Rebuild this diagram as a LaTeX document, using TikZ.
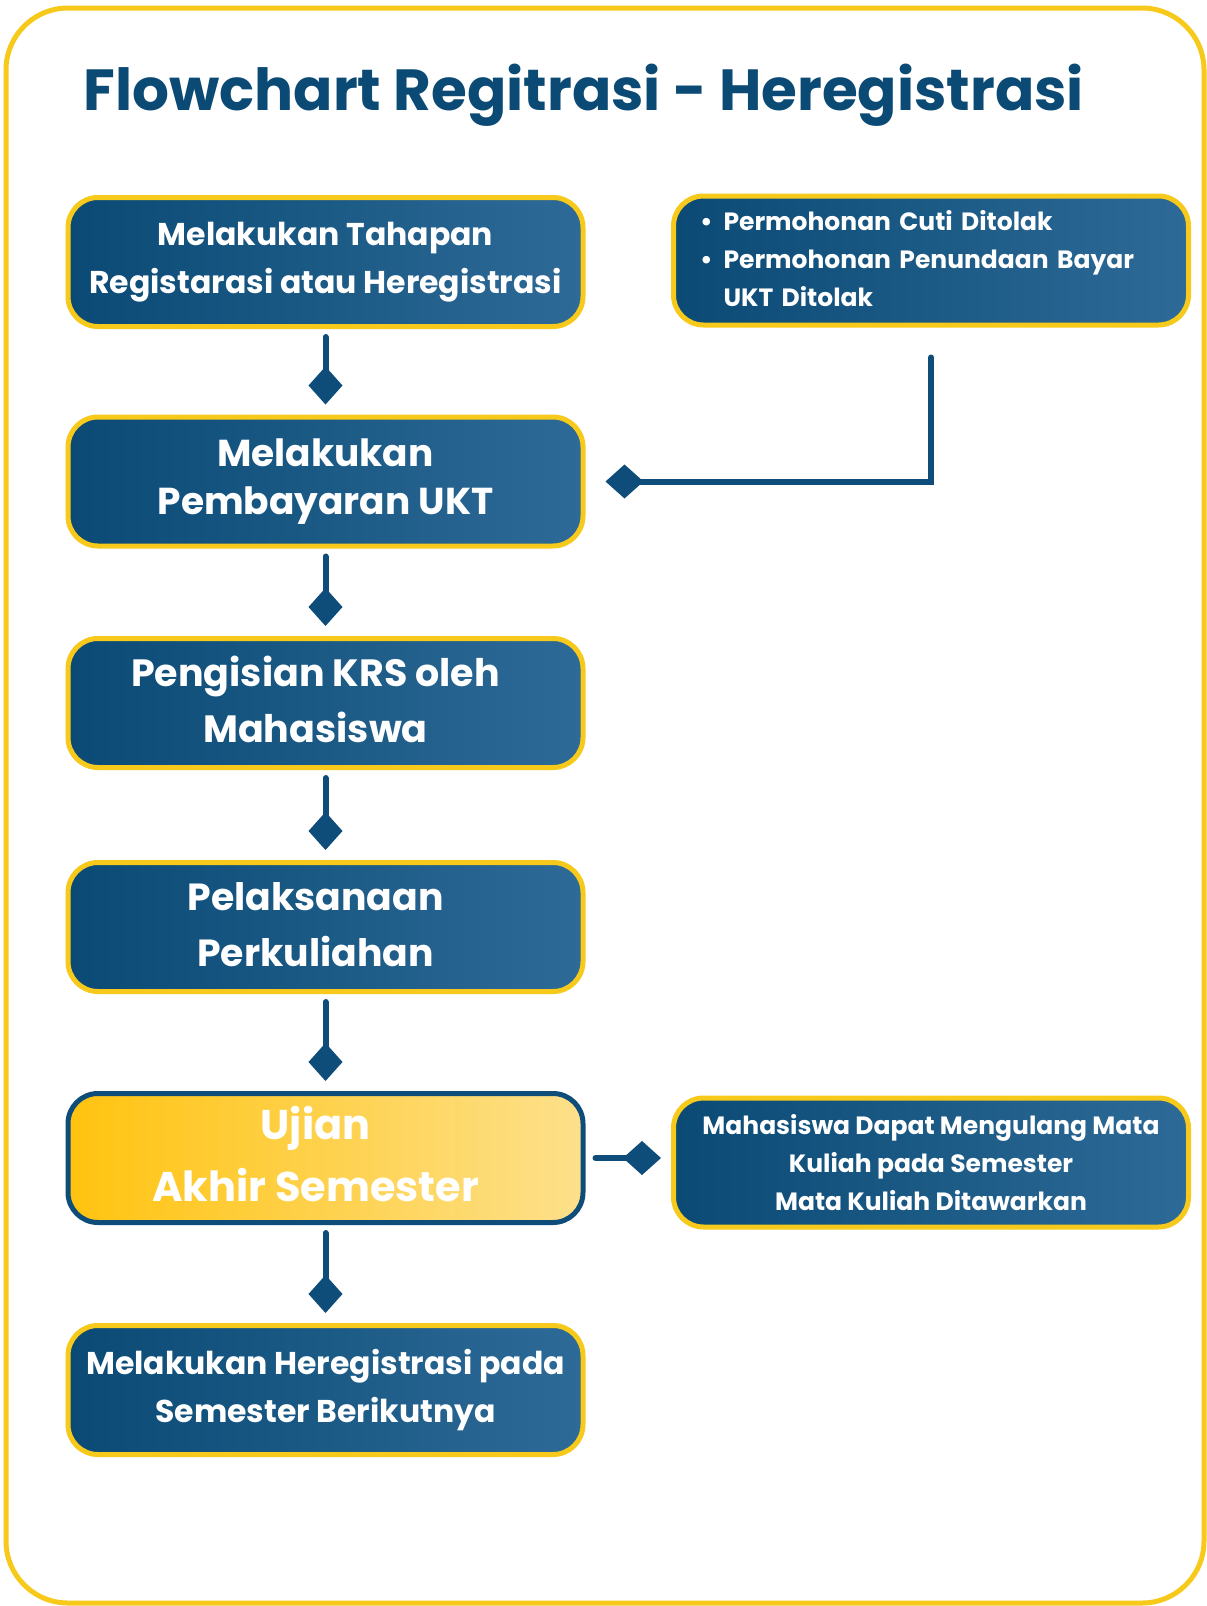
\documentclass[tikz,border=0pt]{standalone}
\usepackage{fontspec}
\setmainfont{Poppins}
\usetikzlibrary{arrows.meta,calc}
\definecolor{ybord}{HTML}{F7C91A}
\definecolor{bL}{HTML}{0A4A75}
\definecolor{bR}{HTML}{2E6A97}
\definecolor{cblue}{HTML}{0E4D7A}
\definecolor{ttl}{HTML}{0B4A74}
\definecolor{yL}{HTML}{FFC30F}
\definecolor{yR}{HTML}{FDE08B}
\tikzset{
  box/.style={draw=ybord, line width=5pt, rounded corners=30pt,
    left color=bL, right color=bR, minimum width=515pt, minimum height=129pt,
    text=white, align=center, inner sep=0pt},
  lbox/.style={draw=ybord, line width=5pt, rounded corners=30pt,
    left color=bL, right color=bR, minimum width=515pt, minimum height=129pt,
    text=white, inner sep=0pt},
  ybox/.style={lbox, draw=cblue, left color=yL, right color=yR},
  conn/.style={draw=cblue, line width=6pt, line cap=round,
    -{Diamond[length=38pt, width=34pt]}},
}
\newcommand{\shiftedlines}[1]{\begin{tabular}{@{}c@{}}#1\end{tabular}\hspace*{20pt}}
\begin{document}
\begin{tikzpicture}[x=1pt,y=-1pt]
\useasboundingbox (0,0) rectangle (1207,1606);
\fill[white] (0,0) rectangle (1207,1606);
\draw[ybord, line width=5pt, rounded corners=62pt] (6,8) rectangle (1204,1603);

\node[anchor=west, text=ttl, font=\bfseries\fontsize{58}{66}\selectfont] (title) at (80,95) {Flowchart Regitrasi - Heregistrasi};

\node[box, font=\bfseries\fontsize{31.5}{48}\selectfont] (b1) at (325.5,262) {Melakukan Tahapan\\Registarasi atau Heregistrasi};
\node[box, text width=462pt, align=left, font=\bfseries\fontsize{25}{38}\selectfont] (r1) at (931,260.5)
  {\begin{tabular}{@{}l@{\hspace{11pt}}l@{}}\textbullet & Permohonan Cuti Ditolak\\ \textbullet & Permohonan Penundaan Bayar\\ & UKT Ditolak\end{tabular}};
\node[box, font=\bfseries\fontsize{37.5}{48}\selectfont] (b2) at (325.5,481.5) {Melakukan\\Pembayaran UKT};
\node[lbox, font=\bfseries\fontsize{38}{56}\selectfont] (b3) at (325.5,703) {\shiftedlines{Pengisian KRS oleh\\Mahasiswa}};
\node[lbox, font=\bfseries\fontsize{37.8}{56}\selectfont] (b4) at (325.5,927) {\shiftedlines{Pelaksanaan\\Perkuliahan}};
\node[ybox, font=\bfseries\fontsize{41.5}{62}\selectfont] (b5) at (325.5,1158) {\shiftedlines{Ujian\\Akhir Semester}};
\node[box, font=\bfseries\fontsize{25}{38}\selectfont] (r2) at (931,1162.5) {Mahasiswa Dapat Mengulang Mata\\Kuliah pada Semester\\Mata Kuliah Ditawarkan};
\node[box, font=\bfseries\fontsize{31.5}{48}\selectfont] (b6) at (325.5,1390) {Melakukan Heregistrasi pada\\Semester Berikutnya};

\draw[conn] ([yshift=-8pt]b1.south) -- ([yshift=10pt]b2.north);
\draw[conn] ([yshift=-8pt]b2.south) -- ([yshift=10pt]b3.north);
\draw[conn] ([yshift=-8pt]b3.south) -- ([yshift=10pt]b4.north);
\draw[conn] ([yshift=-8pt]b4.south) -- ([yshift=10pt]b5.north);
\draw[conn] ([yshift=-8pt]b5.south) -- ([yshift=10pt]b6.north);
\draw[conn] ([yshift=-30pt]r1.south) |- ([xshift=20pt]b2.east);
\draw[conn] ([xshift=10pt]b5.east) -- ($(b5.east -| r2.west)+(-10pt,0)$);
\end{tikzpicture}
\end{document}
